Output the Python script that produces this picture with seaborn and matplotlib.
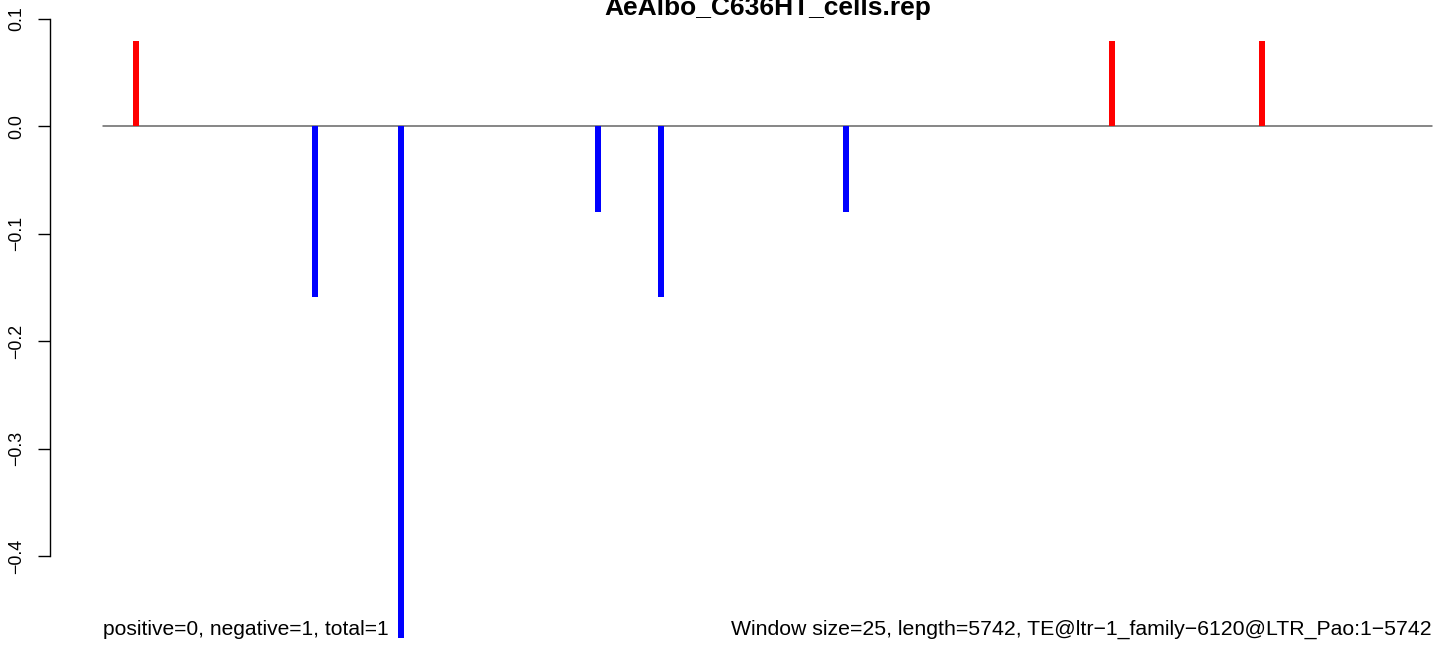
import math
import matplotlib
matplotlib.use("Agg")
import matplotlib.pyplot as plt
import seaborn as sns
import pandas as pd
import numpy as np

# data
title = "AeAlbo_C636HT_cells.rep"
window_size = 25
te_length = 5742
te_name = "TE@ltr\u22121_family\u22126120@LTR_Pao:1\u22125742"
bar_windows = [6.7, 37.5, 52.3, 86.3, 97.1, 129.0, 174.8, 200.7]
bar_values = [0.0794, -0.1587, -0.4762, -0.0794, -0.1587, -0.0794, 0.0794, 0.0794]
yticks = [-0.4, -0.3, -0.2, -0.1, 0.0, 0.1]
n_pos, n_neg, n_total = 0, 1, 1

n_win = math.ceil(te_length / window_size)

df = pd.DataFrame({"window": bar_windows, "value": bar_values})
df["strand"] = np.where(df["value"] > 0, "pos", "neg")

sns.set_style("white")
plt.rcParams["font.family"] = ["Liberation Sans", "DejaVu Sans"]
plt.rcParams["text.color"] = "black"
plt.rcParams["ytick.color"] = "black"
plt.rcParams["ytick.labelcolor"] = "black"

W, H = 1444, 650
fig = plt.figure(figsize=(W / 100, H / 100), dpi=100)
# plot region runs past the right edge, like the cropped original
ax = fig.add_axes([50 / W, (H - 638) / H, 1435 / W, (638 - 19) / H])

bar_w = 1.03
min_gap = np.min(np.diff(np.sort(df["window"].values)))
sns.barplot(data=df, x="window", y="value", hue="strand",
            palette={"pos": "#FF0000", "neg": "#0000FF"},
            native_scale=True, width=bar_w / min_gap, errorbar=None,
            legend=False, saturation=1, linewidth=0, ax=ax)

ax.plot([1, n_win], [0, 0], color="#666666", linewidth=1.1, zorder=0)

pad = 0.04 * (n_win - 1)
ax.set_xlim(1 - pad, n_win + pad)
ax.set_ylim(min(bar_values), max(yticks))

for s in ["top", "right", "bottom"]:
    ax.spines[s].set_visible(False)
ax.spines["left"].set_bounds(min(yticks), max(yticks))
ax.spines["left"].set_linewidth(1.0)
ax.spines["left"].set_color("black")
ax.set_xticks([])
ax.set_yticks(yticks)
ax.set_yticklabels([f"{t:.1f}".replace("-", "\u2212") for t in yticks],
                   rotation=90, va="center", fontsize=12.8, color="black")
ax.tick_params(axis="y", length=8.6, width=1.0, pad=9, left=True, colors="black")
ax.set_xlabel("")
ax.set_ylabel("")
ax.patch.set_alpha(0)
for c in ax.get_children():
    c.set_clip_on(False)

fig.text(767.5 / W, 1 - 15 / H, title, ha="center", va="baseline",
         fontsize=19, fontweight="bold", color="black")
fig.text(103 / W, 15 / H, f"positive={n_pos}, negative={n_neg}, total={n_total}",
         ha="left", va="baseline", fontsize=15.1, color="black")
fig.text(1432 / W, 15 / H,
         f"Window size={window_size}, length={te_length}, {te_name}",
         ha="right", va="baseline", fontsize=15.3, color="black")

fig.savefig("out.png", dpi=100)
plt.close(fig)
